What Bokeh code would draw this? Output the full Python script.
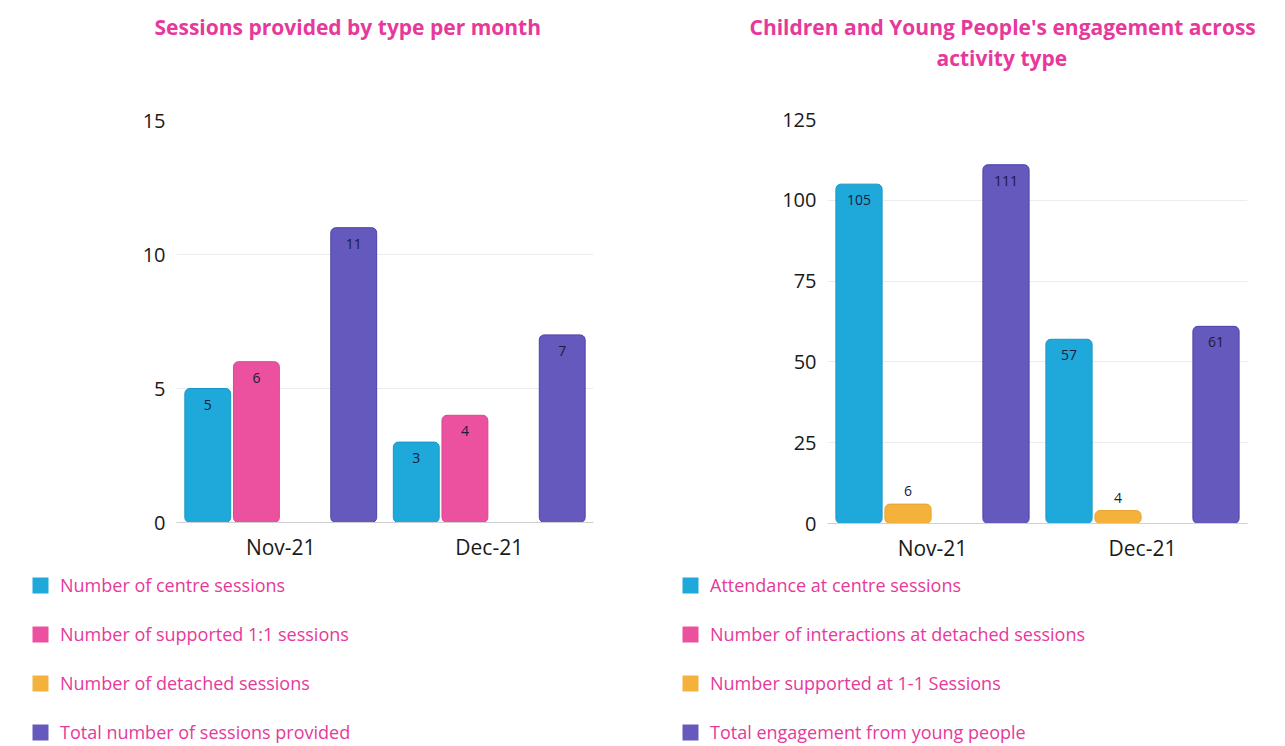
from bokeh.plotting import figure
from bokeh.models import ColumnDataSource, FixedTicker, Legend, LegendItem, Title
from bokeh.transform import dodge
from bokeh.layouts import row, column
from bokeh.core.properties import value
from bokeh.embed import file_html
from bokeh.resources import INLINE

# ---------------- data ----------------
months = ["Nov-21", "Dec-21"]

# chart 1: sessions provided by type per month
sessions_title = ["Sessions provided by type per month"]
sessions_names = ["Number of centre sessions", "Number of supported 1:1 sessions",
                  "Number of detached sessions", "Total number of sessions provided"]
centre_sessions = [5, 3]
supported_sessions = [6, 4]
detached_sessions = [0, 0]
total_sessions = [11, 7]
sessions_ticks = [0, 5, 10, 15]

# chart 2: engagement across activity type
engagement_title = ["Children and Young People's engagement across", "activity type"]
engagement_names = ["Attendance at centre sessions", "Number of interactions at detached sessions",
                    "Number supported at 1-1 Sessions", "Total engagement from young people"]
attendance = [105, 57]
detached_interactions = [0, 0]
supported_1to1 = [6, 4]
total_engagement = [111, 61]
engagement_ticks = [0, 25, 50, 75, 100, 125]

# ---------------- style ----------------
BLUE, BLUE_L = "#1fa9db", "#1796c6"
PINK, PINK_L = "#ec519f", "#db4590"
YELLOW, YELLOW_L = "#f4b23c", "#e6a330"
PURPLE, PURPLE_L = "#6659bd", "#4a42aa"
TITLE_PINK = "#e6399b"
FONT = "Open Sans"
SLOTS = [-0.35, -0.1167, 0.1167, 0.35]
BAR_W = 0.22
CHART_H = 570
LEGEND_H = 175


def spacer(size, standoff):
    return Title(text=" ", text_font_size=size, standoff=standoff, text_color="white")


def make_chart(width, frame, ymax, ticks, series, titles):
    left, right, bottom = frame
    p = figure(x_range=months, y_range=(0, ymax), width=width, height=CHART_H,
               output_backend="svg", toolbar_location=None, title=None,
               min_border_left=left, min_border_right=right,
               min_border_top=0, min_border_bottom=bottom)
    p.frame_align = False
    p.outline_line_color = None
    p.background_fill_color = "white"
    p.border_fill_color = "white"

    p.xgrid.grid_line_color = None
    p.ygrid.grid_line_color = "#ebebf0"
    p.ygrid.grid_line_width = 1

    p.yaxis.ticker = FixedTicker(ticks=ticks)
    p.yaxis.axis_line_color = None
    p.yaxis.major_tick_line_color = None
    p.yaxis.minor_tick_line_color = None
    p.yaxis.major_label_text_font = FONT
    p.yaxis.major_label_text_font_size = "20px"
    p.yaxis.major_label_text_color = "#1a1a1a"
    p.yaxis.major_label_standoff = 5

    p.xaxis.axis_line_color = "#cfcfd4"
    p.xaxis.major_tick_line_color = None
    p.xaxis.minor_tick_line_color = None
    p.xaxis.major_label_text_font = FONT
    p.xaxis.major_label_text_font_size = "21px"
    p.xaxis.major_label_text_color = "#1a1a1a"
    p.xaxis.major_label_standoff = 4

    for name, vals, color, lcolor, slot in series:
        src = ColumnDataSource(dict(month=months, value=vals))
        p.vbar(x=dodge("month", SLOTS[slot], range=p.x_range), top="value", width=BAR_W,
               source=src, fill_color=color, line_color=lcolor, line_width=1,
               border_radius=5)
        inside = [(m, v) for m, v in zip(months, vals) if v > 0 and v / ymax >= 0.1]
        above = [(m, v) for m, v in zip(months, vals) if v > 0 and v / ymax < 0.1]
        for group, baseline, off in ((inside, "top", 11), (above, "bottom", -8)):
            if not group:
                continue
            s = ColumnDataSource(dict(month=[a for a, _ in group], value=[b for _, b in group],
                                      label=[str(b) for _, b in group]))
            p.text(x=dodge("month", SLOTS[slot], range=p.x_range), y="value", text="label",
                   source=s, text_align="center", text_baseline=baseline, y_offset=off,
                   text_font=value(FONT), text_font_size="14px", text_color="#1b1b3c")

    for t in titles:
        p.add_layout(t, "above")
    return p


def make_legend(width, series, legend_order, loc):
    q = figure(x_range=months, y_range=(1000, 1001), width=width, height=LEGEND_H,
               output_backend="svg", toolbar_location=None, title=None,
               min_border_left=0, min_border_right=0, min_border_top=0, min_border_bottom=0)
    q.frame_align = False
    q.axis.visible = False
    q.grid.grid_line_color = None
    q.outline_line_color = None
    rends = {}
    for name, vals, color, lcolor, slot in series:
        src = ColumnDataSource(dict(month=months, value=vals))
        rends[name] = q.vbar(x=dodge("month", SLOTS[slot], range=q.x_range), top="value",
                             width=BAR_W, source=src, fill_color=color, line_color=None)
    items = [LegendItem(label=n, renderers=[rends[n]]) for n in legend_order]
    legend = Legend(items=items, location=loc, orientation="vertical",
                    glyph_width=20, glyph_height=20, label_height=24, spacing=25,
                    label_standoff=10, padding=0, margin=0,
                    border_line_color=None, background_fill_alpha=0,
                    label_text_font=FONT, label_text_font_size="18px",
                    label_text_color=TITLE_PINK)
    q.add_layout(legend, "center")
    return q


def title(text, offset, standoff):
    return Title(text=text, align="left", offset=offset, vertical_align="top",
                 text_font=FONT, text_font_size="21px", text_font_style="bold",
                 text_color=TITLE_PINK, standoff=standoff)


series1 = [
    (sessions_names[0], centre_sessions, BLUE, BLUE_L, 0),
    (sessions_names[1], supported_sessions, PINK, PINK_L, 1),
    (sessions_names[2], detached_sessions, YELLOW, YELLOW_L, 2),
    (sessions_names[3], total_sessions, PURPLE, PURPLE_L, 3),
]
titles1 = [spacer("19px", 55), title(sessions_title[0], -22, 0), spacer("2px", 8)]
p1 = make_chart(653, (176, 60, CHART_H - 522), 15, sessions_ticks, series1, titles1)
l1 = make_legend(653, series1, sessions_names, (30, 1))

series2 = [
    (engagement_names[0], attendance, BLUE, BLUE_L, 0),
    (engagement_names[2], supported_1to1, YELLOW, YELLOW_L, 1),
    (engagement_names[1], detached_interactions, PINK, PINK_L, 2),
    (engagement_names[3], total_engagement, PURPLE, PURPLE_L, 3),
]
titles2 = [spacer("19px", 21), title(engagement_title[1], 109, 3),
           title(engagement_title[0], -78, 0), spacer("2px", 8)]
p2 = make_chart(630, (174, 36, CHART_H - 523), 125, engagement_ticks, series2, titles2)
l2 = make_legend(630, series2, engagement_names, (27, 1))

layout = row(column(p1, l1), column(p2, l2))
open("out.html", "w").write(file_html(layout, INLINE))
